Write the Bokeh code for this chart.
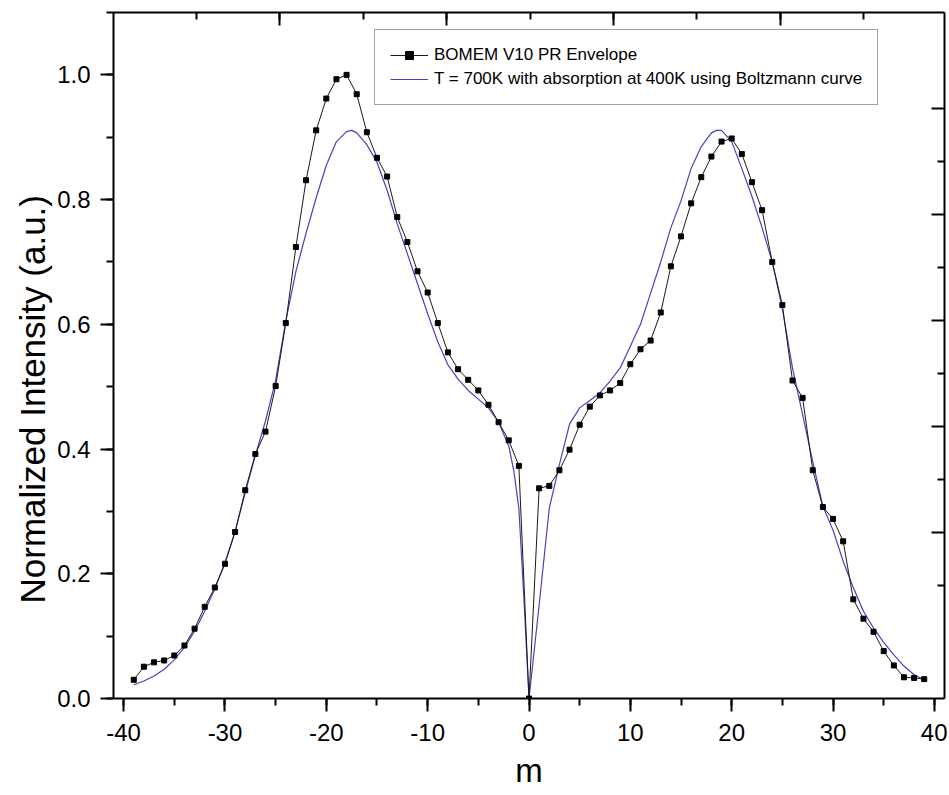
from bokeh.plotting import figure
from bokeh.models import (Range1d, LinearAxis, SingleIntervalTicker, FixedTicker,
                          Legend, LegendItem, NumeralTickFormatter, ColumnDataSource,
                          CustomJSTickFormatter, Title)
from bokeh.embed import file_html
from bokeh.resources import INLINE

# ---- data ----
m_env = list(range(-39, 40))
env = [0.030, 0.051, 0.058, 0.061, 0.069, 0.085, 0.112, 0.147, 0.178, 0.216,
       0.267, 0.334, 0.392, 0.428, 0.501, 0.602, 0.724, 0.831, 0.911, 0.962,
       0.993, 1.000, 0.969, 0.908, 0.867, 0.837, 0.772, 0.732, 0.685, 0.651,
       0.602, 0.555, 0.528, 0.511, 0.494, 0.471, 0.443, 0.414, 0.373, 0.0,
       0.337, 0.341, 0.366, 0.399, 0.439, 0.468, 0.486, 0.494, 0.506, 0.536,
       0.560, 0.574, 0.619, 0.693, 0.741, 0.794, 0.836, 0.869, 0.893, 0.898,
       0.873, 0.828, 0.783, 0.700, 0.631, 0.510, 0.482, 0.366, 0.307, 0.288,
       0.252, 0.159, 0.128, 0.107, 0.076, 0.053, 0.034, 0.033, 0.031]

m_model = [-39, -38, -37, -36, -35, -34, -33, -32, -31, -30, -29, -28, -27, -26,
           -25, -24, -23, -22, -21, -20, -19, -18, -17.5, -17, -16, -15, -14, -13,
           -12, -11, -10, -9, -8, -7, -6, -5, -4, -3, -2, -1.5, -1, -0.5, 0,
           1, 2, 3, 4, 5, 6, 7, 8, 9, 10, 11, 12, 13, 14, 15, 16, 17, 18, 18.5,
           19, 20, 21, 22, 23, 24, 25, 26, 27, 28, 29, 30, 31, 32, 33, 34, 35,
           36, 37, 38, 39]
model = [0.022, 0.028, 0.036, 0.047, 0.062, 0.082, 0.108, 0.140, 0.176, 0.218,
         0.268, 0.330, 0.390, 0.445, 0.510, 0.605, 0.685, 0.746, 0.803, 0.855,
         0.893, 0.909, 0.911, 0.907, 0.888, 0.860, 0.815, 0.761, 0.713, 0.665,
         0.617, 0.572, 0.535, 0.512, 0.494, 0.480, 0.466, 0.443, 0.405, 0.365,
         0.305, 0.160, 0.0,
         0.150, 0.305, 0.375, 0.440, 0.466, 0.478, 0.490, 0.509, 0.530, 0.565,
         0.600, 0.650, 0.700, 0.755, 0.798, 0.850, 0.885, 0.907, 0.911, 0.911,
         0.893, 0.850, 0.805, 0.755, 0.700, 0.625, 0.530, 0.455, 0.380, 0.308,
         0.270, 0.220, 0.178, 0.140, 0.113, 0.090, 0.070, 0.052, 0.038, 0.030]

label_env = "BOMEM V10 PR Envelope"
label_model = "T = 700K with absorption at 400K using Boltzmann curve"
x_title = "m"
y_title = "Normalized Intensity (a.u.)"

FONT = "Liberation Sans"

p = figure(width=947, height=795, x_range=Range1d(-41, 41), y_range=Range1d(0, 1.1),
           output_backend="svg", toolbar_location=None,
           min_border_left=113, min_border_right=3, min_border_top=12, min_border_bottom=97)
p.xgrid.visible = False
p.ygrid.visible = False
p.outline_line_color = None
p.background_fill_color = "white"
p.border_fill_color = "white"

src_env = ColumnDataSource(dict(x=m_env, y=env))
src_mod = ColumnDataSource(dict(x=m_model, y=model))

r_mod = p.line("x", "y", source=src_mod, line_color="#4343c2", line_width=1.2)
r_env_l = p.line("x", "y", source=src_env, line_color="#1a1a1a", line_width=1)
r_env_s = p.scatter("x", "y", source=src_env, marker="square", size=5,
                    fill_color="black", line_color="black")

# bottom / left axes
xa = p.xaxis[0]
xa.ticker = SingleIntervalTicker(interval=10, num_minor_ticks=2)
xa.formatter = NumeralTickFormatter(format="0")
xa.axis_label = x_title
ya = p.yaxis[0]
ya.ticker = SingleIntervalTicker(interval=0.2, num_minor_ticks=2)
ya.formatter = NumeralTickFormatter(format="0.0")

for ax in (xa, ya):
    ax.axis_line_width = 2
    ax.axis_line_color = "black"
    ax.major_tick_line_width = 2
    ax.minor_tick_line_width = 2
    ax.major_tick_in = 0
    ax.minor_tick_in = 0
    ax.major_tick_out = 13
    ax.minor_tick_out = 7
    ax.major_label_text_font = FONT
    ax.major_label_text_font_size = "24px"
    ax.major_label_text_color = "black"
    ax.axis_label_text_font = FONT
    ax.axis_label_text_font_size = "33px"
    ax.axis_label_text_font_style = "normal"
    ax.axis_label_text_color = "black"

xa.major_label_standoff = 12
xa.axis_label_standoff = 8
ya.major_label_standoff = 10

# y-axis title as a side title (lets it sit a little below the frame centre)
ytitle = Title(text=y_title, align="left", offset=95, standoff=6,
               text_font=FONT, text_font_size="35px", text_font_style="normal",
               text_color="black")
p.add_layout(ytitle, "left")

# mirrored axes (top / right) with inward ticks and no labels
p.extra_x_ranges = {"top": Range1d(0.002, 4.986)}
p.extra_y_ranges = {"right": Range1d(-0.566, 5.906)}
top = LinearAxis(x_range_name="top",
                 ticker=SingleIntervalTicker(interval=1, num_minor_ticks=2))
right = LinearAxis(y_range_name="right",
                   ticker=FixedTicker(ticks=[1, 2, 3, 4, 5],
                                      minor_ticks=[0.5, 1.5, 2.5, 3.5, 4.5]))
blank = CustomJSTickFormatter(code="return ''")
for ax in (top, right):
    ax.formatter = blank
    ax.axis_line_width = 2
    ax.axis_line_color = "black"
    ax.major_tick_line_width = 2
    ax.minor_tick_line_width = 2
    ax.major_tick_out = 0
    ax.minor_tick_out = 0
    ax.major_tick_in = 13
    ax.minor_tick_in = 7
    ax.major_label_text_font_size = "1px"
    ax.major_label_standoff = 0
p.add_layout(top, "above")
p.add_layout(right, "right")

legend = Legend(items=[LegendItem(label=label_env, renderers=[r_env_l, r_env_s]),
                       LegendItem(label=label_model, renderers=[r_mod])],
                location=(261, 593), orientation="vertical")
legend.label_text_font = FONT
legend.label_text_font_size = "17px"
legend.label_text_color = "black"
legend.glyph_width = 38
legend.glyph_height = 20
legend.label_height = 20
legend.label_standoff = 6
legend.spacing = 4
legend.padding = 15
legend.margin = 0
legend.border_line_color = "#444444"
legend.border_line_width = 1
legend.background_fill_alpha = 1
p.add_layout(legend, "center")

open("out.html", "w").write(file_html(p, INLINE))
